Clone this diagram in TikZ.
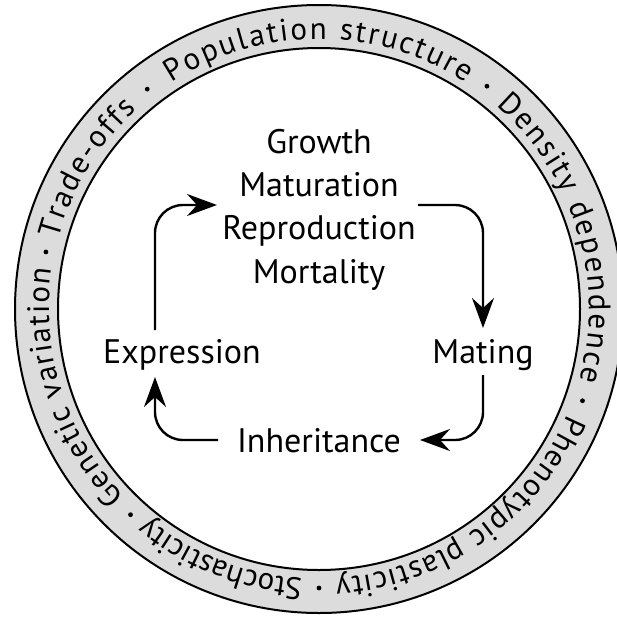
\documentclass[tikz,border=0pt]{standalone}
\usepackage{fontspec}
\setmainfont{PT Sans}
\usetikzlibrary{arrows.meta,decorations.text}
\definecolor{ringgray}{RGB}{220,220,220}
% phrase along the ring: start angle, end angle (clockwise), text
\newcommand\ringphrase[3]{%
  \path[shift={(319,-309)}, decorate, decoration={text along path, text align={fit to path},
    text={|\fontsize{31}{31}\selectfont|#3}}]
    (#1:270) arc[start angle=#1, end angle=#2, radius=270];}
\newcommand\ringdot[1]{\fill[shift={(319,-309)}] (#1:279) circle[radius=2.4];}
\begin{document}
\begin{tikzpicture}[x=1pt,y=1pt,
  lab/.style={font=\fontsize{34}{43.3}\selectfont, inner sep=0pt, anchor=base},
  arr/.style={line width=2.4pt, -{Stealth[length=30pt,width=22pt,inset=10pt]}},
  ]
\useasboundingbox (0,0) rectangle (617,-621);
\fill[white] (0,0) rectangle (617,-621);
\coordinate (C) at (319,-309);
\draw[line width=2pt, fill=ringgray, even odd rule] (C) circle[radius=304] (C) circle[radius=261];
\ringphrase{123}{57}{Population structure}
\ringphrase{49}{-15.5}{Density dependence}
\ringphrase{-23}{-86.5}{Phenotypic plasticity}
\ringphrase{-93.5}{-129}{Stochasticity}
\ringphrase{-136}{-188.5}{Genetic variation}
\ringphrase{165}{132.5}{Trade-offs}
\ringdot{128}
\ringdot{53}
\ringdot{-19.2}
\ringdot{-90}
\ringdot{-132.5}
\ringdot{168.2}
\node[lab, align=center] (cycle) at (319,-283) {Growth\\Maturation\\Reproduction\\Mortality};
\node[lab] (expr) at (182,-363) {Expression};
\node[lab] (mating) at (483,-363) {Mating};
\node[lab] (inher) at (319,-452) {Inheritance};
\coordinate (a1s) at (155,-330);
\coordinate (a1e) at (217,-205);
\coordinate (a2s) at (418,-205);
\coordinate (a2e) at (483,-328);
\coordinate (a3s) at (483,-375);
\coordinate (a3e) at (420,-440);
\coordinate (a4s) at (218,-440);
\coordinate (a4e) at (155,-377);
\draw[arr, rounded corners=28pt] (a1s) |- (a1e);
\draw[arr, rounded corners=28pt] (a2s) -| (a2e);
\draw[arr, rounded corners=28pt] (a3s) |- (a3e);
\draw[arr, rounded corners=28pt] (a4s) -| (a4e);
\end{tikzpicture}
\end{document}
